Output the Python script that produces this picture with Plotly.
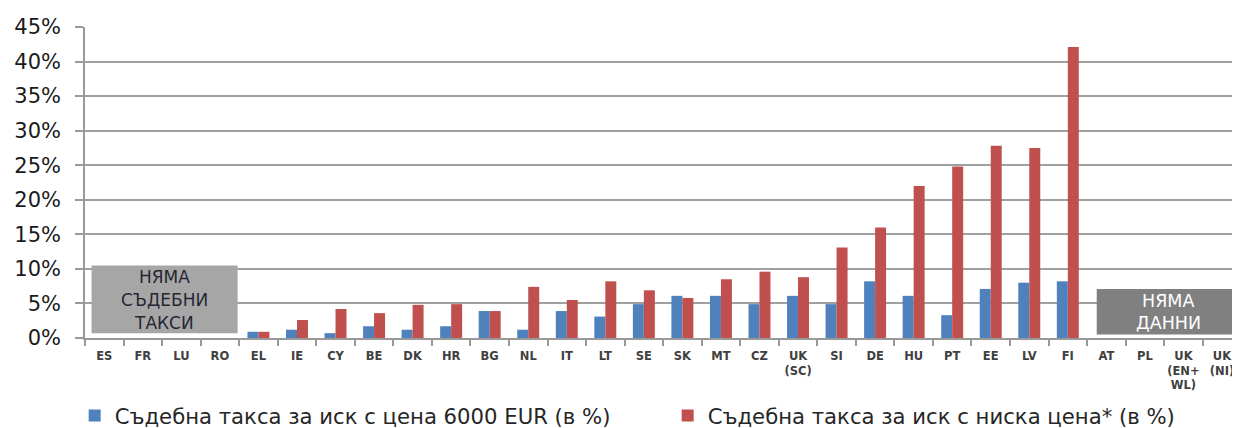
import plotly.graph_objects as go

# categories on the x axis (ES..RO have no fees, AT..UK(NI) have no data)
countries = ["ES", "FR", "LU", "RO", "EL", "IE", "CY", "BE", "DK", "HR", "BG", "NL",
             "IT", "LT", "SE", "SK", "MT", "CZ", "UK<br>(SC)", "SI", "DE", "HU", "PT",
             "EE", "LV", "FI", "AT", "PL", "UK<br>(EN+<br>WL)", "UK<br>(NI)"]

fee_6000 = [None, None, None, None, 0.9, 1.2, 0.7, 1.7, 1.2, 1.7, 3.9, 1.2,
            3.9, 3.1, 4.9, 6.1, 6.1, 4.9, 6.1, 4.9, 8.2, 6.1, 3.3,
            7.1, 8.0, 8.2, None, None, None, None]

fee_low = [None, None, None, None, 0.9, 2.6, 4.2, 3.6, 4.8, 4.9, 3.9, 7.4,
           5.5, 8.2, 6.9, 5.8, 8.5, 9.6, 8.8, 13.1, 16.0, 22.0, 24.8,
           27.8, 27.5, 42.1, None, None, None, None]

series_names = ["Съдебна такса за иск с цена 6000 EUR (в %)",
                "Съдебна такса за иск с ниска цена* (в %)"]

y_ticks = [0, 5, 10, 15, 20, 25, 30, 35, 40, 45]

no_fees_lines = ["НЯМА", "СЪДЕБНИ", "ТАКСИ"]
no_data_lines = ["НЯМА", "ДАННИ"]

fig = go.Figure()
fig.add_trace(go.Bar(x=countries, y=fee_6000, name=series_names[0],
                     marker=dict(color="#4f81bd", line=dict(width=0))))
fig.add_trace(go.Bar(x=countries, y=fee_low, name=series_names[1],
                     marker=dict(color="#c0504d", line=dict(width=0))))

# grey boxes for countries without fees / without data
fig.add_shape(type="rect", xref="x", yref="y", x0=-0.33, x1=3.46, y0=0.7, y1=10.5,
              fillcolor="#a6a6a6", line=dict(width=0), layer="above")
fig.add_shape(type="rect", xref="x", yref="y", x0=25.75, x1=29.8, y0=0.5, y1=7.1,
              fillcolor="#808080", line=dict(width=0), layer="above")

for i, txt in enumerate(no_fees_lines):
    fig.add_annotation(x=1.56, y=8.85 - i * 3.35, xref="x", yref="y", text=txt,
                       showarrow=False, font=dict(family="DejaVu Sans", size=17, color="#262633"))
for i, txt in enumerate(no_data_lines):
    fig.add_annotation(x=27.6, y=5.4 - i * 3.2, xref="x", yref="y", text=txt,
                       showarrow=False, font=dict(family="DejaVu Sans", size=17.5, color="white"))

# the page body has an 8px margin, so the figure is shifted by 8px
fig.update_layout(
    width=1224, height=420,
    margin=dict(l=77, r=0, t=19, b=90, autoexpand=False),
    paper_bgcolor="white", plot_bgcolor="white",
    barmode="group", bargap=0.43, bargroupgap=0,
    font=dict(family="DejaVu Sans", color="#262626"),
    legend=dict(orientation="h", x=-0.009, xanchor="left", y=-0.25, yanchor="middle",
                font=dict(size=21.2, color="#262626"),
                entrywidth=548, entrywidthmode="pixels"),
)
fig.update_xaxes(
    type="category", range=[-0.5, 29.26], automargin=False, tickangle=0,
    showline=True, linecolor="#999999", linewidth=1.5,
    ticks="outside", tickson="boundaries", ticklen=6, tickcolor="#999999", tickwidth=1.5,
    tickfont=dict(family="DejaVu Sans", size=11.5, color="#404040", weight="bold"),
    ticklabelstandoff=6,
    showgrid=False,
)
fig.update_yaxes(
    range=[0, 45], tickvals=y_ticks, ticktext=[f"{v}%" for v in y_ticks], automargin=False,
    showgrid=True, gridcolor="#a0a0a0", gridwidth=1.5, zeroline=False,
    showline=True, linecolor="#999999", linewidth=1.5,
    ticks="outside", ticklen=8, tickcolor="#999999", tickwidth=1.5,
    tickfont=dict(family="DejaVu Sans", size=21, color="#1a1a1a"),
    ticklabelstandoff=10,
)

fig.write_html("out.html")
